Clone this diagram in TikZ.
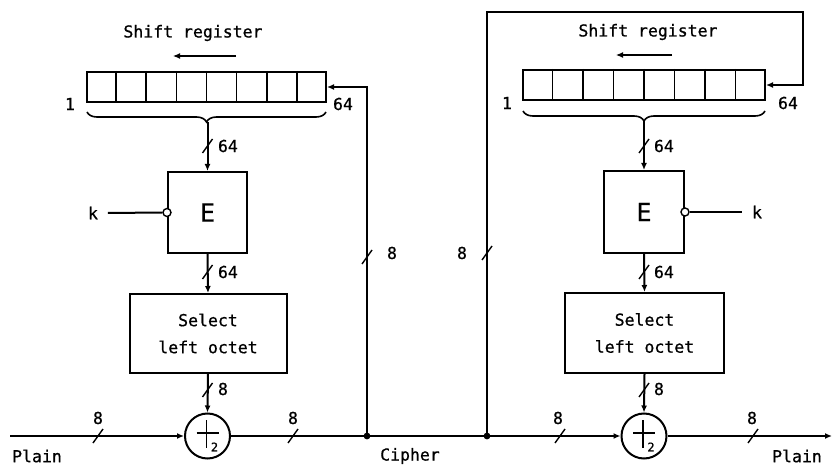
\documentclass[tikz,border=0pt]{standalone}
\usepackage{fontspec}
\newfontfamily\lbl[FakeBold=0.8]{DejaVu Sans Mono}
\usetikzlibrary{arrows.meta,decorations.pathreplacing,calc}
\begin{document}
\begin{tikzpicture}[x=1pt,y=-1pt,line width=2pt,
  box/.style={draw,line width=2pt,inner sep=0pt},
  lab/.style={font=\lbl\fontsize{16.5}{27}\selectfont,inner sep=0pt},
  arr/.style={-{Latex[length=7pt,width=6pt]}},
  slash/.pic={\draw[line width=1.4pt] (-5,7) -- (5,-7);},
  cell/.style={line width=1.6pt},
  brc/.style={decorate,decoration={brace,amplitude=10pt,mirror},line width=1.6pt},
  inv/.style={draw,circle,minimum size=8pt,inner sep=0pt,fill=white,line width=1.4pt}]
\useasboundingbox (0,0) rectangle (833,465);
% ---------- left half ----------
\node[lab] (srL) at (193,33) {Shift register};
\coordinate (saL1) at (236,56); \coordinate (saL2) at (173,56);
\draw[arr,line width=1.2pt] (saL1) -- (saL2);
\node[box,minimum width=239pt,minimum height=30pt] (regL) at (206.5,87) {};
\foreach \i in {1,...,7}
  \draw[cell] ($(regL.north west)!\i/8!(regL.north east)$) -- ($(regL.south west)!\i/8!(regL.south east)$);
\node[lab] (oneL) at (70,104) {1};
\node[lab] (sfL) at (343,104) {64};
\coordinate (baL) at (87,112); \coordinate (bbL) at (326,112);
\draw[brc] (baL) -- (bbL);
\coordinate (btL) at (207.5,122);
\node[box,minimum width=79pt,minimum height=81pt,font=\lbl\fontsize{25}{25}\selectfont] (EL) at (207.5,212.5) {E};
\draw[arr] (btL) -- (EL.north);
\pic at (207.5,146) {slash}; \node[lab,anchor=west] (l64a) at (217,146) {64};
\node[inv] (cL) at (EL.west) {};
\node[lab] (kL) at (93,213) {k};
\draw ([xshift=9pt]kL.east) -- (cL.west);
\node[box,minimum width=157pt,minimum height=79pt,lab,align=center] (selL) at (208,333.5) {Select\\left octet};
\draw[arr] (EL.south) -- (selL.north);
\pic at (207.5,272) {slash}; \node[lab,anchor=west] (l64b) at (217,272) {64};
\node[box,circle,minimum size=45pt] (xL) at (207.5,436) {};
\draw[line width=1.6pt] ([shift={(-11,-3)}]xL.center) -- ++(22,0);
\draw[line width=1.6pt] ([shift={(-1,-16)}]xL.center) -- ++(0,28);
\node[lab,font=\lbl\fontsize{12}{12}\selectfont] (x2L) at ([shift={(7,11)}]xL.center) {2};
\draw[arr] (selL.south) -- (xL.north);
\pic at (207.5,390) {slash}; \node[lab,anchor=west] (l8a) at (217,389) {8};
\coordinate (inL) at (10,436);
\draw[arr] (inL) -- (xL.west);
\pic at (98,436) {slash}; \node[lab] (l8b) at (98,418) {8};
\node[lab] (plainL) at (37,456) {Plain};
\coordinate (j1) at (367,436);
\draw (xL.east) -- (j1);
\pic at (293,436) {slash}; \node[lab] (l8c) at (293,418) {8};
\fill (j1) circle (3.4pt);
\draw[arr] (j1) |- (regL.east);
\pic at (367,257) {slash}; \node[lab] (l8d) at (392,253) {8};
\node[lab] (ciph) at (410,456) {Cipher};
% ---------- right half ----------
\coordinate (j2) at (487,436);
\draw (j1) -- (j2);
\fill (j2) circle (3.4pt);
\node[lab] (srR) at (648,32) {Shift register};
\coordinate (saR1) at (672,55); \coordinate (saR2) at (616,55);
\draw[arr,line width=1.2pt] (saR1) -- (saR2);
\node[box,minimum width=242pt,minimum height=30pt] (regR) at (644,85) {};
\foreach \i in {1,...,7}
  \draw[cell] ($(regR.north west)!\i/8!(regR.north east)$) -- ($(regR.south west)!\i/8!(regR.south east)$);
\node[lab] (oneR) at (507,103) {1};
\node[lab] (sfR) at (788,103) {64};
\coordinate (baR) at (523,111); \coordinate (bbR) at (765,111);
\draw[brc] (baR) -- (bbR);
\coordinate (btR) at (644,121);
\node[box,minimum width=80pt,minimum height=82pt,font=\lbl\fontsize{25}{25}\selectfont] (ER) at (644,212) {E};
\draw[arr] (btR) -- (ER.north);
\pic at (644,146) {slash}; \node[lab,anchor=west] (r64a) at (653,146) {64};
\node[inv] (cR) at (ER.east) {};
\node[lab] (kR) at (757,212) {k};
\draw (cR.east) -- ([xshift=-9pt]kR.west);
\node[box,minimum width=159pt,minimum height=80pt,lab,align=center] (selR) at (644.5,333) {Select\\left octet};
\draw[arr] (ER.south) -- (selR.north);
\pic at (644,272) {slash}; \node[lab,anchor=west] (r64b) at (653,272) {64};
\node[box,circle,minimum size=45pt] (xR) at (644,436) {};
\draw[line width=1.6pt] ([shift={(-11,-3)}]xR.center) -- ++(22,0);
\draw[line width=1.6pt] ([shift={(-1,-16)}]xR.center) -- ++(0,28);
\node[lab,font=\lbl\fontsize{12}{12}\selectfont] (x2R) at ([shift={(7,11)}]xR.center) {2};
\draw[arr] (selR.south) -- (xR.north);
\pic at (644,390) {slash}; \node[lab,anchor=west] (r8a) at (653,389) {8};
\draw[arr] (j2) -- (xR.west);
\pic at (560,436) {slash}; \node[lab] (r8b) at (558,418) {8};
\coordinate (outR) at (832,436);
\draw[arr] (xR.east) -- (outR);
\pic at (753,436) {slash}; \node[lab] (r8c) at (752,418) {8};
\node[lab] (plainR) at (797,456) {Plain};
\coordinate (tr) at (803,12);
\draw[arr] (j2) |- (tr) |- (regR.east);
\pic at (487,253) {slash}; \node[lab] (r8d) at (462,253) {8};
\end{tikzpicture}
\end{document}
